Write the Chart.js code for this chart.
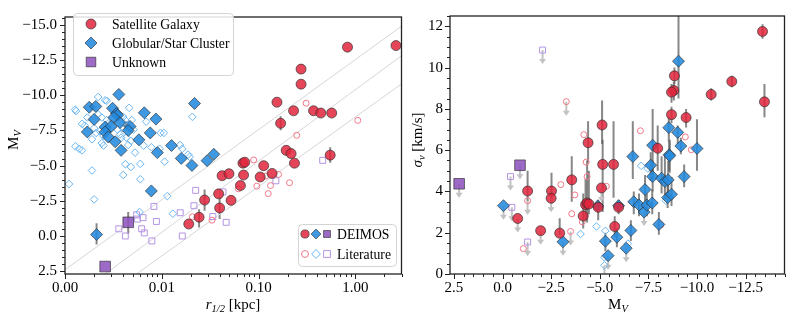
<!DOCTYPE html>
<html>
<head>
<meta charset="utf-8">
<script src="https://cdn.jsdelivr.net/npm/chart.js@4/dist/chart.umd.min.js"></script>
<style>
  body { margin: 0; background: #fff; }
  .panel { position: absolute; top: 0; }
</style>
</head>
<body>
<div class="panel" style="left:0"><canvas id="sizePlot" width="410" height="319"></canvas></div>
<div class="panel" style="left:410px"><canvas id="sigmaPlot" width="383" height="319"></canvas></div>
<script>
const FONT = "'Liberation Serif', 'DejaVu Serif', serif";

// ---------- left panel: r_1/2 [kpc] vs M_V  ([r, Mv, errLo, errHi]) ----------
const satGalaxies = [
  [0.83, -13.41], [2.63, -13.52], [0.275, -11.85], [0.275, -10.78], [0.155, -9.5],
  [0.23, -8.89], [0.37, -8.89], [0.44, -8.73], [0.57, -8.73], [0.169, -8.0, -8.5, -7.5],
  [0.193, -6.08], [0.217, -5.85], [0.55, -5.74, -6.3, -5.2], [0.235, -5.17], [0.069, -5.17],
  [0.072, -5.24], [0.113, -4.99], [0.042, -4.28], [0.0495, -4.42], [0.07, -4.33],
  [0.104, -4.19], [0.138, -4.44], [0.065, -3.58], [0.0387, -2.99], [0.0277, -2.55, -3.3, -1.8],
  [0.052, -2.53], [0.0396, -1.99, -2.8, -1.2], [0.0243, -1.33, -1.9, -0.6], [0.019, -0.85]
];
const clusters = [
  [0.0036, -10.05], [0.0218, -9.41], [0.00178, -9.14], [0.00208, -9.2], [0.0031, -9.07],
  [0.0034, -8.69], [0.0035, -8.58], [0.0032, -8.41], [0.002, -8.28], [0.0066, -8.75],
  [0.0087, -8.3], [0.0017, -7.39], [0.0026, -7.73], [0.003, -7.78], [0.0037, -8.05],
  [0.0047, -7.78], [0.0045, -7.49], [0.0026, -7.39], [0.0028, -7.03], [0.0033, -6.69],
  [0.0038, -6.08], [0.0058, -6.83], [0.0076, -7.32], [0.0126, -6.42], [0.009, -5.92],
  [0.0159, -5.51], [0.0205, -5.01], [0.0294, -5.35], [0.0345, -5.8], [0.0078, -3.2],
  [0.00212, -0.1, -0.9, 0.6]
];
const unknowns = [[0.0045, -0.97, -1.7, -0.15], [0.0026, 2.17]];
const litSatellites = [
  [0.31, -9.43], [1.06, -8.21], [0.248, -7.15], [0.089, -5.4], [0.119, -4.26], [0.161, -4.37],
  [0.096, -3.54], [0.133, -3.58], [0.126, -3.01], [0.209, -3.78], [0.062, -3.35],
  [0.033, -1.12], [0.0207, -1.36]
];
const litClusters = [
  [0.00127, -8.98], [0.0013, -8.87], [0.0022, -9.87], [0.0026, -9.64], [0.0027, -9.6],
  [0.0046, -9.1], [0.0017, -8.41], [0.0022, -8.64], [0.0024, -8.41], [0.0015, -7.96],
  [0.0016, -7.83], [0.0027, -8.23], [0.0028, -8.0], [0.004, -8.46], [0.0042, -8.23],
  [0.0043, -7.89], [0.004, -7.66], [0.0035, -7.55], [0.0049, -8.23], [0.0051, -7.55],
  [0.002, -7.66], [0.0023, -7.44], [0.0021, -7.32], [0.0025, -7.1], [0.0019, -6.87],
  [0.0037, -7.21], [0.0038, -6.98], [0.0043, -6.98], [0.0048, -6.76], [0.0045, -6.46],
  [0.0025, -6.42], [0.0024, -6.6], [0.0069, -8.12], [0.0065, -6.42], [0.0053, -5.92],
  [0.0042, -5.1], [0.004, -4.33], [0.006, -5.12], [0.006, -4.03], [0.00128, -6.37],
  [0.0014, -6.19], [0.0015, -6.08], [0.0019, -4.65], [0.0011, -3.69], [0.002, -2.6],
  [0.0078, -6.3], [0.0097, -7.32], [0.0105, -7.32], [0.0095, -6.19], [0.0107, -5.28],
  [0.0114, -2.83], [0.0154, -6.46], [0.0163, -6.19], [0.0187, -5.78], [0.0194, -5.62],
  [0.0207, -8.46], [0.0048, -4.9], [0.013, -1.58], [0.0059, -1.7]
];
const litUnknowns = [
  [0.46, -5.37], [0.151, -3.92], [0.0224, -3.24], [0.0429, -3.13], [0.0215, -2.15],
  [0.0155, -1.65], [0.0337, -1.38], [0.0463, -0.97], [0.0163, 0.0], [0.0083, -2.1],
  [0.0088, -1.03], [0.0055, -1.5], [0.0064, -1.3], [0.0056, -1.2], [0.0062, -0.51],
  [0.0066, -0.22], [0.0079, 0.35], [0.0036, -0.51], [0.0042, 0.0]
];
// constant surface brightness guide lines, two end points each
const guideLines = [
  [[0.001, 2.4], [3.0, -14.9]],
  [[0.0026, 2.7], [3.0, -12.8]],
  [[0.0055, 2.7], [3.0, -10.8]]
];
const rTicks = [0.001, 0.01, 0.1, 1];
const mvTicksLeft = [-15, -12.5, -10, -7.5, -5, -2.5, 0, 2.5];

// ---------- right panel: M_V vs sigma_v  ([Mv, sigma, errLo, errHi, upperLimit]) ----------
const sigSatellites = [
  [-13.37, 11.75, 11.4, 12.1], [-11.79, 9.33, 9.05, 9.6], [-10.73, 8.7, 8.4, 9.0],
  [-13.47, 8.34, 7.6, 9.2], [-8.84, 9.6, 9.2, 10.0], [-8.81, 8.89, 8.4, 9.3],
  [-8.69, 8.81, 8.3, 9.2], [-8.69, 7.72, 7.3, 8.1], [-9.44, 7.58, 7.1, 8.0],
  [-5.12, 7.22, 6.3, 8.4], [-4.4, 6.36, 5.4, 7.4], [-5.15, 5.31, 3.0, 6.5],
  [-5.71, 5.31, 3.7, 7.4], [-7.98, 6.09, 5.0, 7.2], [-1.29, 4.02, 3.5, 5.0],
  [-2.52, 4.02, 3.4, 4.9], [-2.5, 3.67, null, null, 1], [-0.78, 2.69, null, null, 1],
  [-1.96, 2.1, null, null, 1], [-2.94, 1.98, 1.9, 2.7], [-3.56, 4.56, 3.5, 5.7],
  [-4.15, 2.81, 2.2, 3.9], [-4.27, 3.36, 2.6, 4.6], [-4.35, 3.44, 2.5, 5.5],
  [-4.44, 3.39, 2.9, 5.0], [-4.92, 3.23, 2.6, 3.6], [-5.09, 4.17, null, null, 1],
  [-5.77, 2.3, 1.8, 2.8], [-5.97, 3.23, 2.9, 3.6]
];
const sigClusters = [
  [-9.05, 10.31, 8.5, 13.5], [-8.55, 7.09, 6.4, 7.6], [-9.01, 6.86, 6.3, 7.2],
  [-6.7, 5.69, 4.6, 7.4], [-7.72, 6.24, 4.6, 8.0], [-8.57, 5.78, 5.0, 6.4],
  [-9.17, 6.2, 5.8, 6.6], [-10.0, 6.08, 5.0, 7.5], [-0.05, 3.31, null, null, 1],
  [-3.11, 1.56, null, null, 1], [-5.29, 1.59, 1.1, 2.0], [-5.43, 0.89, null, null, 1],
  [-5.88, 1.78, 1.3, 2.2], [-6.36, 1.25, null, null, 1], [-6.6, 2.11, 1.6, 2.6],
  [-6.75, 3.5, 2.9, 4.0], [-7.02, 3.34, 2.8, 3.9], [-7.28, 3.0, null, null, 1],
  [-7.33, 4.09, 3.4, 4.8], [-7.42, 3.34, 2.8, 3.9], [-7.62, 5.27, 4.5, 5.9],
  [-7.72, 4.72, 4.0, 5.5], [-7.7, 3.44, 2.9, 4.1], [-8.04, 2.4, 1.9, 3.0],
  [-8.18, 4.64, 3.9, 5.7], [-8.35, 4.48, 3.6, 5.8], [-8.52, 4.56, 3.7, 5.5],
  [-8.49, 3.7, 3.2, 4.3], [-8.6, 5.73, 4.9, 6.5], [-8.69, 3.86, 3.3, 4.7],
  [-9.34, 4.72, 4.2, 5.3], [-5.97, 3.31], [-4.9, 3.3]
];
const sigUnknowns = [[2.23, 4.37, null, null, 1], [-0.9, 5.27, null, null, 1]];
const sigLitSatellites = [
  [-3.28, 8.35, null, null, 1], [-4.18, 6.75], [-7.09, 6.94], [-9.4, 6.64], [-9.71, 6.02],
  [-1.29, 3.55, null, null, 1], [-1.07, 1.23], [-3.0, 4.33], [-3.5, 2.06, null, null, 1],
  [-3.56, 2.92], [-3.72, 3.83], [-4.1, 2.53], [-4.35, 4.72], [-4.3, 5.42], [-5.34, 4.25],
  [-8.13, 2.37]
];
const sigLitClusters = [
  [-4.01, 1.94], [-4.83, 2.3], [-5.29, 2.09], [-5.24, 0.81], [-5.24, 0.42, null, null, 1],
  [-6.45, 1.47], [-7.13, 5.24], [-7.47, 5.11], [-8.4, 3.55]
];
const sigLitUnknowns = [
  [-2.06, 10.85, null, null, 1], [-0.41, 4.72, null, null, 1],
  [-0.48, 3.23, null, null, 1], [-1.29, 1.55, null, null, 1]
];
const mvTicksRight = [2.5, 0, -2.5, -5, -7.5, -10, -12.5];
const sigmaTicks = [0, 2, 4, 6, 8, 10, 12];

// ---------- styles ----------
const EDGE = 'rgba(45,45,45,0.65)';
const STYLES = {
  sat:    { pointStyle: 'circle',  radius: 5,   fill: 'rgba(225,38,60,0.85)',  edge: EDGE },
  gc:     { pointStyle: 'rectRot', radius: 6,   fill: 'rgba(36,138,222,0.88)', edge: EDGE },
  unk:    { pointStyle: 'rect',    radius: 7.5, fill: 'rgba(140,80,190,0.85)', edge: EDGE },
  litSat: { pointStyle: 'circle',  radius: 3,   fill: 'rgba(0,0,0,0)', edge: '#f27888' },
  litGc:  { pointStyle: 'rectRot', radius: 3.8, fill: 'rgba(0,0,0,0)', edge: '#6ab6f2' },
  litUnk: { pointStyle: 'rect',    radius: 4.2, fill: 'rgba(0,0,0,0)', edge: '#b494e4' }
};

function pointSet(pts, sty, order) {
  const s = STYLES[sty];
  return {
    type: 'scatter',
    data: pts.map(p => ({ x: p[0], y: p[1], lo: p[2], hi: p[3], ul: p[4] === 1 })),
    pointStyle: s.pointStyle,
    pointRadius: s.radius,
    pointHoverRadius: s.radius,
    pointBackgroundColor: s.fill,
    pointBorderColor: s.edge,
    pointBorderWidth: 1,
    order: order
  };
}

function isOn(v, list) {
  return list.some(m => Math.abs(m - v) < 1e-9);
}
function fmt(v, digits) {
  return v.toFixed(digits).replace('-', '\u2212');
}
function linearTicks(lo, hi, step) {
  const out = [];
  for (let v = Math.ceil(lo / step) * step; v <= hi + 1e-9; v += step) out.push(Math.round(v * 100) / 100);
  return out;
}
function logTicks(lo, hi) {
  const out = [];
  for (let d = -3; d <= 0; d++) {
    for (let k = 1; k <= 9; k++) {
      const v = parseFloat((k * Math.pow(10, d)).toPrecision(6));
      if (v >= lo - 1e-12 && v <= hi + 1e-12) out.push(v);
    }
  }
  return out;
}

// frame + matplotlib-like outward ticks (major longer than minor)
function frameTicks(xMajor, yMajor) {
  return {
    id: 'frameTicks',
    afterDraw(chart) {
      const { ctx, chartArea: a } = chart;
      const xs = chart.scales.x, ys = chart.scales.y;
      ctx.save();
      ctx.strokeStyle = '#222';
      ctx.lineWidth = 1;
      xs.ticks.forEach(t => {
        const p = Math.round(xs.getPixelForValue(t.value)) + 0.5;
        const len = isOn(t.value, xMajor) ? 5 : 3;
        ctx.beginPath(); ctx.moveTo(p, a.bottom); ctx.lineTo(p, a.bottom + len); ctx.stroke();
      });
      ys.ticks.forEach(t => {
        const p = Math.round(ys.getPixelForValue(t.value)) + 0.5;
        const len = isOn(t.value, yMajor) ? 5 : 3;
        ctx.beginPath(); ctx.moveTo(a.left, p); ctx.lineTo(a.left - len, p); ctx.stroke();
      });
      ctx.lineWidth = 1.3;
      ctx.strokeRect(a.left, a.top, a.right - a.left, a.bottom - a.top);
      ctx.restore();
    }
  };
}

// error bars and upper-limit arrows, drawn under the markers
const errorBars = {
  id: 'errorBars',
  beforeDatasetsDraw(chart) {
    const { ctx, chartArea: a } = chart;
    const xs = chart.scales.x, ys = chart.scales.y;
    ctx.save();
    ctx.beginPath(); ctx.rect(a.left, a.top, a.right - a.left, a.bottom - a.top); ctx.clip();
    chart.data.datasets.forEach(ds => {
      if (ds.type !== 'scatter') return;
      ds.data.forEach(p => {
        const px = xs.getPixelForValue(p.x);
        if (p.lo != null && p.hi != null) {
          ctx.strokeStyle = 'rgba(95,95,95,0.75)';
          ctx.lineWidth = 2;
          ctx.beginPath();
          ctx.moveTo(px, ys.getPixelForValue(p.lo));
          ctx.lineTo(px, ys.getPixelForValue(p.hi));
          ctx.stroke();
        }
        if (p.ul) {
          const py = ys.getPixelForValue(p.y);
          ctx.strokeStyle = '#c2c2c2';
          ctx.fillStyle = '#c2c2c2';
          ctx.lineWidth = 2;
          ctx.beginPath(); ctx.moveTo(px, py); ctx.lineTo(px, py + 10); ctx.stroke();
          ctx.beginPath();
          ctx.moveTo(px - 3.5, py + 9); ctx.lineTo(px + 3.5, py + 9); ctx.lineTo(px, py + 14);
          ctx.closePath(); ctx.fill();
        }
      });
    });
    ctx.restore();
  }
};

function drawRich(ctx, parts, x, y, rotate) {
  ctx.save();
  ctx.translate(x, y);
  if (rotate) ctx.rotate(-Math.PI / 2);
  const fonts = parts.map(p => (p.it ? 'italic ' : '') + (p.sub ? '10.5px ' : '15px ') + FONT);
  let w = 0;
  parts.forEach((p, i) => { ctx.font = fonts[i]; w += ctx.measureText(p.t).width; });
  let cx = -w / 2;
  ctx.fillStyle = '#000';
  ctx.textBaseline = 'middle';
  ctx.textAlign = 'left';
  parts.forEach((p, i) => {
    ctx.font = fonts[i];
    ctx.fillText(p.t, cx, p.sub ? 4 : 0);
    cx += ctx.measureText(p.t).width;
  });
  ctx.restore();
}

function axisTitles(specs) {
  return {
    id: 'axisTitles',
    afterDraw(chart) {
      specs.forEach(s => drawRich(chart.ctx, s.parts, s.x, s.y, s.rotate));
    }
  };
}

function marker(ctx, sty, x, y, scale) {
  const s = STYLES[sty];
  ctx.save();
  ctx.fillStyle = s.fill;
  ctx.strokeStyle = s.edge;
  ctx.lineWidth = 1;
  Chart.helpers.drawPoint(ctx, { pointStyle: s.pointStyle, radius: s.radius * (scale || 1), rotation: 0, borderWidth: 1 }, x, y);
  ctx.restore();
}

function legendBox(ctx, x, y, w, h) {
  ctx.save();
  ctx.fillStyle = 'rgba(255,255,255,0.85)';
  ctx.strokeStyle = '#d4d4d4';
  ctx.lineWidth = 1;
  ctx.beginPath();
  ctx.roundRect(x + 0.5, y + 0.5, w, h, 4);
  ctx.fill(); ctx.stroke();
  ctx.restore();
}

const legends = {
  id: 'legends',
  afterDraw(chart) {
    const ctx = chart.ctx;
    legendBox(ctx, 73, 13, 160, 62);
    const rows = [['sat', 'Satellite Galaxy', 24], ['gc', 'Globular/Star Cluster', 43], ['unk', 'Unknown', 62]];
    rows.forEach(r => {
      marker(ctx, r[0], 91, r[2], r[0] === 'unk' ? 0.9 : 1);
      ctx.fillStyle = '#000'; ctx.font = '13.7px ' + FONT; ctx.textBaseline = 'middle';
      ctx.fillText(r[1], 112, r[2] + 1);
    });
    legendBox(ctx, 298, 224, 98, 42);
    [['sat', 'gc', 'unk', 'DEIMOS', 234, 0.82], ['litSat', 'litGc', 'litUnk', 'Literature', 254, 1.15]].forEach(r => {
      marker(ctx, r[0], 305, r[4], r[5]);
      marker(ctx, r[1], 316, r[4], r[5]);
      marker(ctx, r[2], 327, r[4], r[0] === 'sat' ? 0.65 : r[5]);
      ctx.fillStyle = '#000'; ctx.font = '13.7px ' + FONT; ctx.textBaseline = 'middle';
      ctx.fillText(r[3], 337, r[4] + 1);
    });
  }
};

Chart.defaults.font.family = FONT;
Chart.defaults.color = '#000';

function axis(opts) {
  return Object.assign({
    grid: { display: false, drawTicks: false },
    border: { display: false },
    ticks: { autoSkip: false, maxRotation: 0, padding: 6, font: { size: 15, family: FONT }, color: '#000' }
  }, opts);
}

const commonOptions = {
  responsive: false,
  animation: false,
  events: [],
  plugins: { legend: { display: false }, tooltip: { enabled: false } }
};

// ----- left chart -----
const leftDatasets = [
  pointSet(satGalaxies, 'sat', 1),
  pointSet(clusters, 'gc', 1),
  pointSet(unknowns, 'unk', 1),
  pointSet(litSatellites, 'litSat', 5),
  pointSet(litClusters, 'litGc', 5),
  pointSet(litUnknowns, 'litUnk', 5)
].concat(guideLines.map(l => ({
  type: 'line',
  data: l.map(p => ({ x: p[0], y: p[1] })),
  borderColor: '#d6d6d6',
  borderWidth: 1,
  pointRadius: 0,
  order: 10
})));

const leftXTicks = logTicks(0.001, 3);
const leftYTicks = linearTicks(-15.55, 2.7, 0.5);

new Chart(document.getElementById('sizePlot'), {
  type: 'scatter',
  data: { datasets: leftDatasets },
  options: Object.assign({}, commonOptions, {
    layout: { padding: { top: 6, right: 8, left: 0, bottom: 0 } },
    scales: {
      x: axis({
        type: 'logarithmic', min: 0.001, max: 3,
        afterBuildTicks: s => { s.ticks = leftXTicks.map(v => ({ value: v })); },
        afterFit: s => { s.height = 45; },
        ticks: { autoSkip: false, maxRotation: 0, padding: 5, font: { size: 15, family: FONT }, color: '#000',
          callback: v => isOn(v, rTicks) ? v.toFixed(2) : '' }
      }),
      y: axis({
        type: 'linear', min: -15.55, max: 2.7, reverse: true,
        afterBuildTicks: s => { s.ticks = leftYTicks.map(v => ({ value: v })); },
        afterFit: s => { s.width = 65; },
        ticks: { autoSkip: false, padding: 8, font: { size: 15, family: FONT }, color: '#000',
          callback: v => isOn(v, mvTicksLeft) ? fmt(v, 1) : '' }
      })
    }
  }),
  plugins: [errorBars, frameTicks(rTicks, mvTicksLeft), legends, axisTitles([
    { parts: [{ t: 'M' }, { t: 'V', sub: true, it: true }], x: 14, y: 140, rotate: true },
    { parts: [{ t: 'r', it: true }, { t: '1/2', sub: true, it: true }, { t: ' [kpc]' }], x: 233, y: 305 }
  ])]
});

// ----- right chart -----
const rightDatasets = [
  pointSet(sigSatellites, 'sat', 1),
  pointSet(sigClusters, 'gc', 1),
  pointSet(sigUnknowns, 'unk', 1),
  pointSet(sigLitSatellites, 'litSat', 5),
  pointSet(sigLitClusters, 'litGc', 5),
  pointSet(sigLitUnknowns, 'litUnk', 5)
];
const rightXTicks = linearTicks(-14.5, 2.7, 0.5);
const rightYTicks = linearTicks(0, 12.5, 0.5);

new Chart(document.getElementById('sigmaPlot'), {
  type: 'scatter',
  data: { datasets: rightDatasets },
  options: Object.assign({}, commonOptions, {
    layout: { padding: { top: 6, right: 7, left: 0, bottom: 0 } },
    scales: {
      x: axis({
        type: 'linear', min: -14.5, max: 2.7, reverse: true,
        afterBuildTicks: s => { s.ticks = rightXTicks.map(v => ({ value: v })); },
        afterFit: s => { s.height = 45; },
        ticks: { autoSkip: false, maxRotation: 0, padding: 5, font: { size: 15, family: FONT }, color: '#000',
          callback: v => isOn(v, mvTicksRight) ? fmt(v, 1) : '' }
      }),
      y: axis({
        type: 'linear', min: 0, max: 12.5,
        afterBuildTicks: s => { s.ticks = rightYTicks.map(v => ({ value: v })); },
        afterFit: s => { s.width = 40; },
        ticks: { autoSkip: false, padding: 7, font: { size: 15, family: FONT }, color: '#000',
          callback: v => isOn(v, sigmaTicks) ? String(v) : '' }
      })
    }
  }),
  plugins: [errorBars, frameTicks(mvTicksRight, sigmaTicks), axisTitles([
    { parts: [{ t: '\u03c3', it: true }, { t: 'v', sub: true, it: true }, { t: ' [km/s]' }], x: 8, y: 140, rotate: true },
    { parts: [{ t: 'M' }, { t: 'V', sub: true, it: true }], x: 208, y: 305 }
  ])]
});
</script>
</body>
</html>
